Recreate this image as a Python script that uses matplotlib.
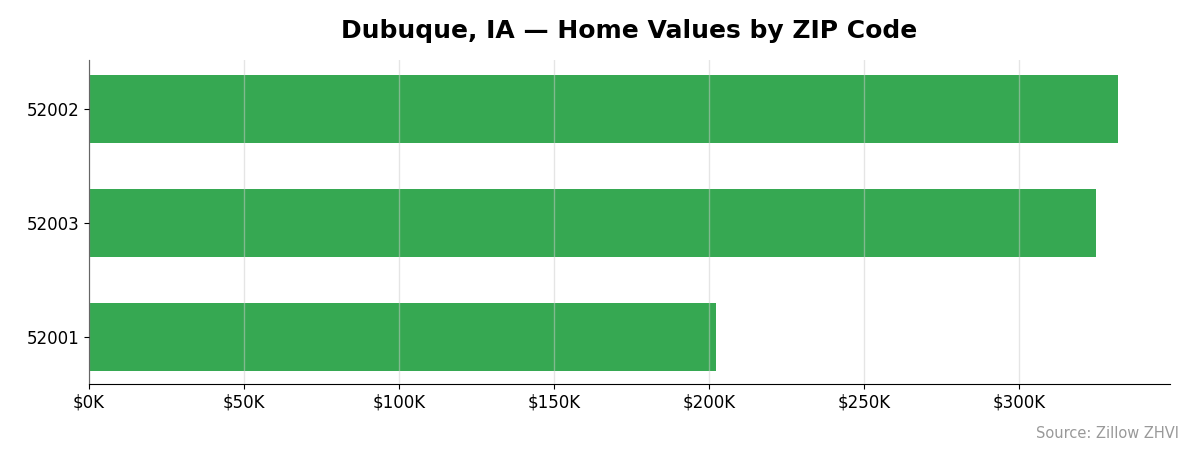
import matplotlib
matplotlib.use("Agg")
import matplotlib.pyplot as plt
from matplotlib.ticker import FuncFormatter

zips = ["52001", "52003", "52002"]
values = [202300, 324800, 331900]

fig = plt.figure(figsize=(11.95, 4.55), dpi=100)
ax = fig.add_axes([0.0745, 0.156, 0.9045, 0.712])
ax.barh(zips, values, height=0.6, color="#36a852", zorder=2)
ax.set_xlim(0, 348700)
ax.set_ylim(-0.41, 2.43)
ax.xaxis.set_major_formatter(FuncFormatter(lambda v, p: f"${v/1000:.0f}K"))
ax.grid(axis="x", color="#cccccc", alpha=0.5, linewidth=1, zorder=3)
ax.set_axisbelow(False)
for s in ["top", "right"]:
    ax.spines[s].set_visible(False)
ax.tick_params(labelsize=12)
ax.set_title("Dubuque, IA — Home Values by ZIP Code", fontsize=18, fontweight="bold", pad=16)
fig.text(0.987, 0.03, "Source: Zillow ZHVI", ha="right", va="bottom", fontsize=10.5, color="#999999")
fig.savefig("out.png", dpi=100)
